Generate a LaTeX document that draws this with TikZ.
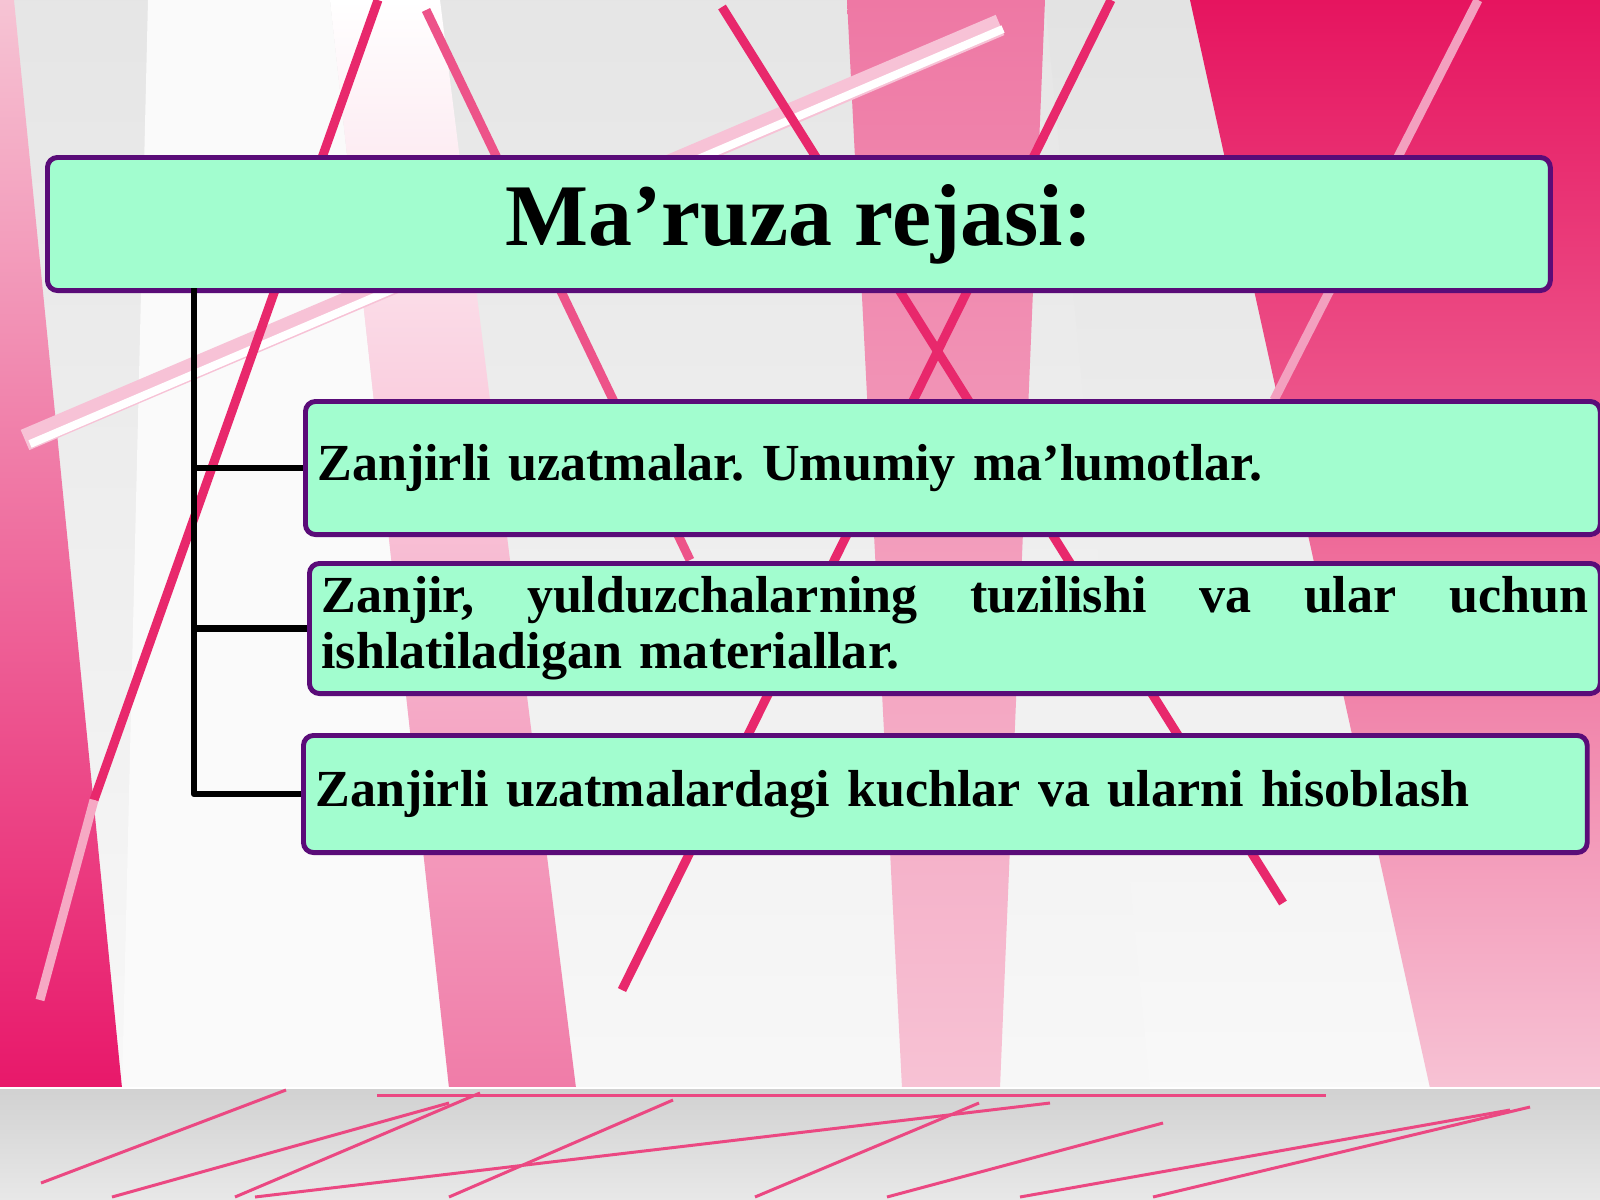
\documentclass[tikz,border=0pt]{standalone}
\usepackage{fontspec}
\setmainfont{Liberation Serif}
\usetikzlibrary{positioning}
\frenchspacing

\definecolor{mint}{HTML}{A2FDCF}
\definecolor{plum}{HTML}{5A0C78}
\definecolor{rosedeep}{HTML}{E8186A}
\definecolor{rosehot}{HTML}{E6145F}
\definecolor{rosemid}{HTML}{EE78A4}
\definecolor{rosesoft}{HTML}{F07CA8}
\definecolor{roselight}{HTML}{F7C2D4}
\definecolor{rosepale}{HTML}{F6C4D4}
\definecolor{ribred}{HTML}{E8286C}

\begin{document}
\begin{tikzpicture}[
            x = 0.01cm, % one unit = one pixel of the slide
            y = -0.01cm, % y runs downwards, as on the slide
            line join = round
        ]

        \tikzstyle{rib}=[
            ribred,
            line width = 0.09cm
        ]
        \tikzstyle{floorline}=[
            ribred!85,
            line width = 0.03cm
        ]
        \tikzstyle{planbox}=[
            draw = plum,
            line width = 1.4pt,
            fill = mint,
            rounded corners = 0.1cm,
            inner xsep = 0.12cm,
            inner ysep = 0pt,
            anchor = north west
        ]
        \tikzstyle{topic}=[
            planbox,
            align = left,
            font = \bfseries\fontsize{14.8}{15.9}\selectfont
        ]
        \tikzstyle{link}=[
            black,
            line width = 1.8pt
        ]

        \useasboundingbox (0,0) rectangle (1600,1200);

        % slide background
        \shade[top color = gray!20, bottom color = white!94!gray] (0,0) rectangle (1600,1088);
        \shade[top color = rosepale, bottom color = rosedeep] (0,0) -- (14,0) -- (122,1088) -- (0,1088) -- cycle;
        \fill[white!96!gray] (148,0) -- (330,0) -- (449,1088) -- (122,1088) -- cycle;
        \shade[top color = white, bottom color = rosesoft] (330,0) -- (440,0) -- (576,1088) -- (449,1088) -- cycle;
        \shade[top color = rosemid, bottom color = roselight] (847,0) -- (1045,0) -- (1000,1088) -- (902,1088) -- cycle;
        \shade[top color = gray!22, bottom color = white!95!gray] (1045,0) -- (1190,0) -- (1430,1088) -- (1150,1088) -- cycle;
        \shade[top color = rosehot, bottom color = roselight] (1190,0) -- (1600,0) -- (1600,1088) -- (1430,1088) -- cycle;

        % light strip and thin ribbons
        \draw[rosemid!45, line width = 0.22cm] (25,440) -- (1000,25);
        \draw[white, line width = 0.08cm] (30,444) -- (1003,29);
        \draw[rib] (378,0) -- (94,800);
        \draw[rib, ribred!40] (94,800) -- (40,1000);
        \draw[rib, ribred!80] (426,10) -- (690,560);
        \draw[rib] (722,7) -- (1283,903);
        \draw[rib] (1111,0) -- (622,990);
        \draw[rib, rosemid!70] (1478,0) -- (1274,400);

        % floor
        \shade[top color = gray!36, bottom color = gray!18] (0,1088) rectangle (1600,1200);
        \draw[white, line width = 0.02cm] (0,1088) -- (1600,1088);
        \draw[floorline] (377,1095) -- (1326,1095);
        \draw[floorline] (41,1183) -- (286,1090);
        \draw[floorline] (112,1197) -- (449,1103);
        \draw[floorline] (235,1197) -- (480,1093);
        \draw[floorline] (449,1197) -- (673,1100);
        \draw[floorline] (255,1197) -- (1050,1103);
        \draw[floorline] (755,1197) -- (979,1103);
        \draw[floorline] (887,1197) -- (1163,1123);
        \draw[floorline] (1020,1197) -- (1510,1110);
        \draw[floorline] (1153,1197) -- (1530,1107);

        % plan boxes
        \node[planbox, minimum width = 15.02cm, minimum height = 1.33cm,
              font = \bfseries\fontsize{25}{30}\selectfont] (plan) at (45,155) {Ma’ruza rejasi:};
        \node[topic, text width = 12.70cm, minimum height = 1.33cm] (b1) at (303,399)
            {Zanjirli uzatmalar. Umumiy ma’lumotlar.};
        \node[topic, text width = 12.66cm, minimum height = 1.30cm] (b2) at (307,561)
            {\hbox to \hsize{Zanjir,\hfill yulduzchalarning\hfill tuzilishi\hfill va\hfill ular\hfill uchun}\\ishlatiladigan materiallar.};
        \node[topic, text width = 12.59cm, minimum height = 1.17cm] (b3) at (301,733)
            {Zanjirli uzatmalardagi kuchlar va ularni hisoblash};

        \coordinate (trunk) at (194,288);

        \draw[link] (trunk) |- (b3.west);
        \draw[link] (trunk) |- (b1.west);
        \draw[link] (trunk) |- (b2.west);

\end{tikzpicture}
\end{document}
